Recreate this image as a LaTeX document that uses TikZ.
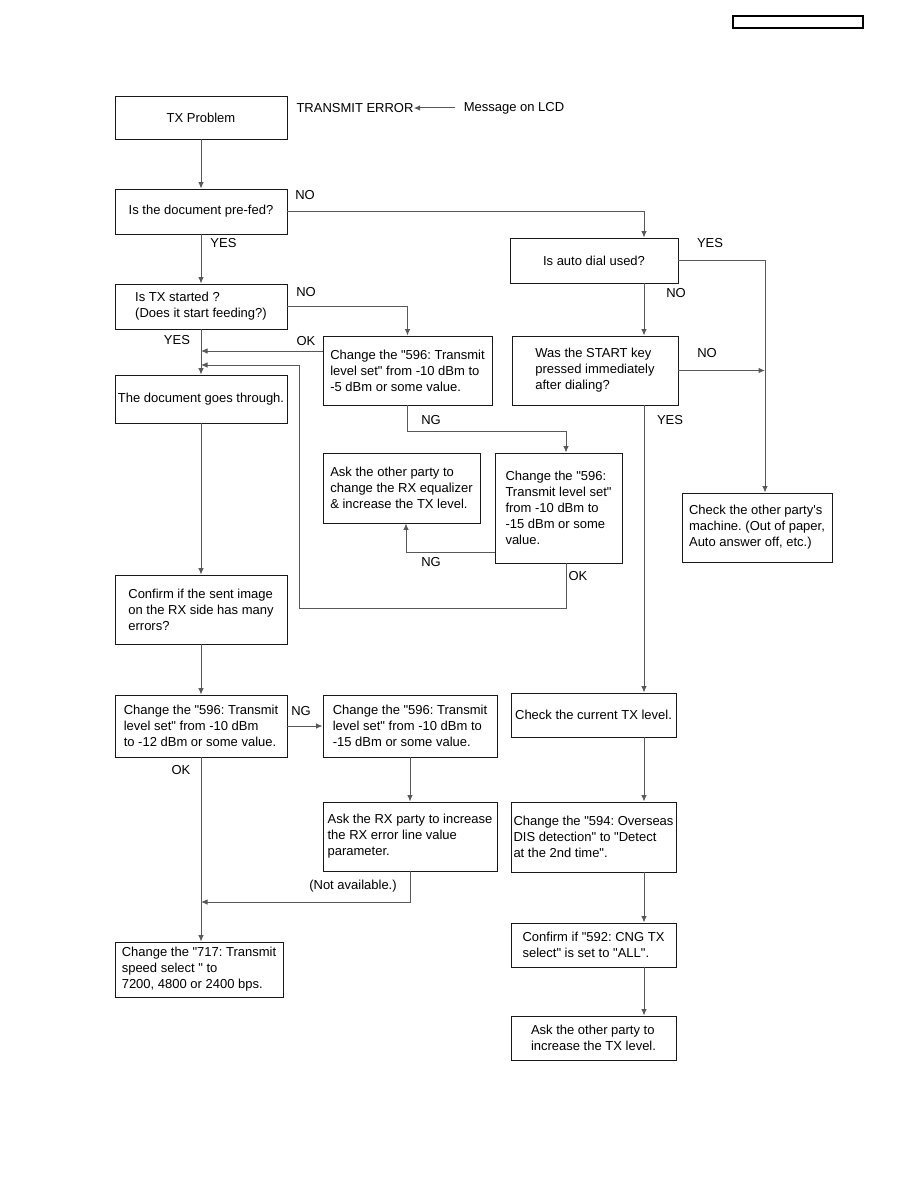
\documentclass[tikz,border=0pt]{standalone}
\usepackage{fontspec}
\setmainfont{Liberation Sans}[Ligatures=TeXOff]
\usetikzlibrary{arrows.meta,positioning,calc}
\frenchspacing

\begin{document}
\begin{tikzpicture}[x=1pt,y=-1pt,>={Latex[length=6.5pt,width=5.5pt]},
  font=\fontsize{13}{16}\selectfont,
  box/.style={draw=black!90,line width=.85pt,inner sep=0pt,align=left},
  cbox/.style={box,align=center},
  lbl/.style={inner sep=0pt},
  conn/.style={draw=black!65,line width=1pt}]
  \useasboundingbox (0,0) rectangle (918,1188);

  \node[draw,line width=1.2pt,minimum width=130pt,minimum height=12pt,inner sep=0pt] (hdr) at (798,22) {};

  % left column
  \node[cbox,minimum width=172pt,minimum height=43pt] (txprob) at (201,117.5) {TX Problem};
  \node[lbl] (lcderr) at (355,108) {TRANSMIT ERROR};
  \node[lbl] (lcdmsg) at (514,108) {Message on LCD};
  \node[cbox,minimum width=172pt,minimum height=45pt] (prefed) at (201,211.5) {Is the document pre-fed?};
  \node[box,minimum width=172pt,minimum height=45pt] (txstart) at (201,306.5) {Is TX started ?\\(Does it start feeding?)};
  \node[cbox,minimum width=172pt,minimum height=48pt] (docthru) at (201,399) {The document goes through.};
  \node[box,minimum width=172pt,minimum height=69pt] (confirm) at (201,609.5) {Confirm if the sent image\\on the RX side has many\\errors?};
  \node[box,minimum width=172pt,minimum height=62pt] (lvl12) at (201,726) {Change the "596: Transmit\\level set" from -10 dBm\\to -12 dBm or some value.};
  \node[box,minimum width=168pt,minimum height=55pt] (speed) at (199,969.5) {Change the "717: Transmit\\speed select " to\\7200, 4800 or 2400 bps.};

  % middle column
  \node[box,minimum width=169pt,minimum height=69pt] (lvl5) at (407.5,370.5) {Change the "596: Transmit\\level set" from -10 dBm to\\-5 dBm or some value.};
  \node[box,minimum width=157pt,minimum height=70pt] (equal) at (401.5,488) {Ask the other party to\\change the RX equalizer\\\& increase the TX level.};
  \node[box,minimum width=127pt,minimum height=110pt] (lvl15a) at (558.5,508) {Change the "596:\\Transmit level set"\\from -10 dBm to\\-15 dBm or some\\value.};
  \node[box,minimum width=174pt,minimum height=62pt] (lvl15b) at (410,726) {Change the "596: Transmit\\level set" from -10 dBm to\\-15 dBm or some value.};
  \node[box,minimum width=174pt,minimum height=69pt] (rxparty) at (410,836.5) {Ask the RX party to increase\\the RX error line value\\parameter.};

  % right column
  \node[cbox,minimum width=168pt,minimum height=45pt] (autodial) at (594,260.5) {Is auto dial used?};
  \node[box,minimum width=166pt,minimum height=69pt] (start) at (595,370.5) {Was the START key\\pressed immediately\\after dialing?};
  \node[box,minimum width=150pt,minimum height=69pt] (other) at (757,527.5) {Check the other party's\\machine. (Out of paper,\\Auto answer off, etc.)};
  \node[cbox,minimum width=165pt,minimum height=44pt] (curlvl) at (593.5,715) {Check the current TX level.};
  \node[box,minimum width=165pt,minimum height=70pt] (dis594) at (593.5,837) {Change the "594: Overseas\\DIS detection" to "Detect\\at the 2nd time".};
  \node[box,minimum width=165pt,minimum height=44pt] (cng) at (593.5,945) {Confirm if "592: CNG TX\\select" is set to "ALL".};
  \node[box,minimum width=165pt,minimum height=44pt] (askinc) at (593.5,1038) {Ask the other party to\\increase the TX level.};

  \coordinate (lcol) at (201,0);
  \coordinate (rcol) at (644,0);
  \coordinate (rline) at (765,0);

  \draw[conn,->,shorten <=9pt] (lcdmsg) -- (lcderr);
  \draw[conn,->] (txprob) -- (prefed);

  % NO branch of pre-feed
  \draw[conn,->] (prefed.east) -- (rcol |- prefed.east) -- (rcol |- autodial.north);
  \node[lbl] (noA) at (305,195) {NO};
  \draw[conn,->] (prefed) -- (txstart);
  \node[lbl] (yesA) at (223.5,243) {YES};

  \draw[conn,->] (autodial.east) -- (rline |- autodial.east) -- (rline |- other.north);
  \node[lbl] (yesB) at (710,243) {YES};
  \draw[conn,->] (rcol |- autodial.south) -- (rcol |- start.north);
  \node[lbl] (noB) at (676,293) {NO};
  \draw[conn,->] (start.east) -- (rline |- start.east);
  \node[lbl] (noC) at (707,353) {NO};
  \draw[conn,->] (rcol |- start.south) -- (rcol |- curlvl.north);
  \node[lbl] (yesC) at (670,420) {YES};
  \draw[conn,->] (rcol |- curlvl.south) -- (rcol |- dis594.north);
  \draw[conn,->] (rcol |- dis594.south) -- (rcol |- cng.north);
  \draw[conn,->] (rcol |- cng.south) -- (rcol |- askinc.north);

  % TX started?
  \draw[conn,->] (txstart.east) -| (lvl5.north);
  \node[lbl] (noD) at (306,292) {NO};
  \draw[conn,->] (txstart) -- (docthru);
  \node[lbl] (yesD) at (177,340) {YES};
  \coordinate (okA) at (201,351);
  \draw[conn,->] (lvl5.west |- okA) -- (okA);
  \node[lbl] (okAl) at (306,341) {OK};
  \coordinate (ngA) at (566,431);
  \draw[conn,->] (lvl5.south) |- (ngA) -- (lvl15a.north -| ngA);
  \node[lbl] (ngAl) at (431,420) {NG};
  \coordinate (ngB) at (406,552);
  \draw[conn,->] (lvl15a.west |- ngB) -- (ngB) -- (ngB |- equal.south);
  \node[lbl] (ngBl) at (431,562) {NG};
  \coordinate (okB) at (566,608);
  \coordinate (okC) at (299,608);
  \coordinate (okD) at (299,365);
  \draw[conn,->] (lvl15a.south -| okB) -- (okB) -- (okC) -- (okD) -- (lcol |- okD);
  \node[lbl] (okBl) at (578,576) {OK};

  % image errors
  \draw[conn,->] (docthru) -- (confirm);
  \draw[conn,->] (confirm) -- (lvl12);
  \draw[conn,->] (lvl12) -- (lvl15b);
  \node[lbl] (ngCl) at (301,711) {NG};
  \draw[conn,->] (lvl15b) -- (rxparty);
  \coordinate (navail) at (201,902);
  \draw[conn,->] (rxparty.south) |- (navail);
  \node[lbl] (navl) at (353,886) {(Not available.)};
  \draw[conn,->] (lvl12.south) -- (lvl12.south |- speed.north);
  \node[lbl] (okCl) at (181,770) {OK};
\end{tikzpicture}
\end{document}
